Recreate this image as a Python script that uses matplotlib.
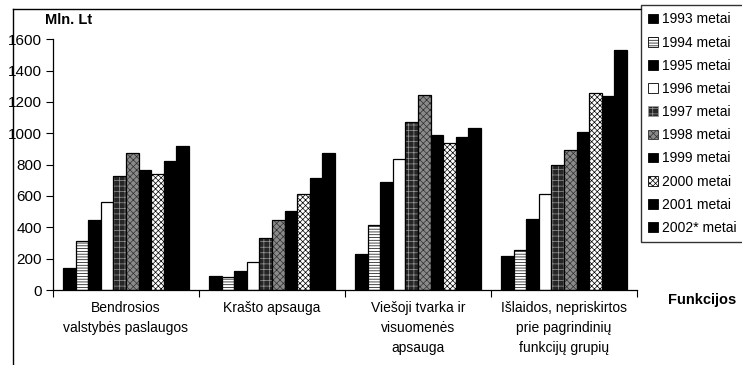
import matplotlib
matplotlib.use("Agg")
import matplotlib.pyplot as plt
import numpy as np
from matplotlib.patches import Patch
from matplotlib.lines import Line2D

plt.rcParams['font.family'] = ['Liberation Sans', 'DejaVu Sans']
plt.rcParams['hatch.linewidth'] = 0.5

categories = ["Bendrosios\nvalstybės paslaugos", "Krašto apsauga",
              "Viešoji tvarka ir\nvisuomenės\napsauga",
              "Išlaidos, nepriskirtos\nprie pagrindinių\nfunkcijų grupių"]
years = ["1993 metai", "1994 metai", "1995 metai", "1996 metai", "1997 metai",
         "1998 metai", "1999 metai", "2000 metai", "2001 metai", "2002* metai"]

# Mln. Lt per year, one list per functional group
bendrosios = [139, 314, 449, 560, 726, 876, 769, 741, 823, 921]
krasto = [92, 81, 124, 177, 331, 449, 504, 615, 716, 874]
viesoji = [229, 417, 688, 838, 1075, 1244, 989, 940, 979, 1034]
islaidos = [218, 256, 455, 613, 799, 893, 1009, 1256, 1239, 1530]
values = np.array([bendrosios, krasto, viesoji, islaidos])

# (facecolor, hatch, hatch colour) for each year
styles = [
    ("black", None, None),
    ("white", "------", "black"),
    ("black", None, None),
    ("white", None, None),
    ("#262626", "+++", "#9a9a9a"),
    ("#8a8a8a", "xxxxx", "#303030"),
    ("black", None, None),
    ("white", "xxxxxx", "black"),
    ("black", None, None),
    ("black", None, None),
]

fig = plt.figure(figsize=(7.42, 3.65), dpi=100)
ax = fig.add_axes([53 / 742, 1 - 290 / 365, (637 - 53) / 742, (290 - 39.3) / 365])

n = len(years)
width = 0.863 / n
x = np.arange(len(categories))
for i in range(n):
    fc, hatch, hc = styles[i]
    pos = x - 0.863 / 2 + width * (i + 0.5)
    if hatch:
        ax.bar(pos, values[:, i], width, color=fc, edgecolor=hc, hatch=hatch, linewidth=0)
    else:
        ax.bar(pos, values[:, i], width, color=fc, linewidth=0)
    ax.bar(pos, values[:, i], width, fill=False, edgecolor="black", linewidth=0.9)

ax.set_xlim(-0.5, 3.5)
ax.set_ylim(0, 1600)
ax.set_yticks(range(0, 1601, 200))
ax.tick_params(axis='y', direction='out', length=5, width=0.8, labelsize=11, pad=3)
ax.set_xticks([-0.5, 0.5, 1.5, 2.5, 3.5])
ax.set_xticklabels([])
ax.tick_params(axis='x', which='major', direction='out', length=5, width=0.8)
ax.set_xticks(x, minor=True)
ax.set_xticklabels(categories, minor=True, fontsize=10, linespacing=1.55)
ax.tick_params(axis='x', which='minor', length=0, pad=8)
for s in ['top', 'right']:
    ax.spines[s].set_visible(False)
for s in ['left', 'bottom']:
    ax.spines[s].set_linewidth(0.9)

fig.text(45 / 742, 1 - 20 / 365, "Mln. Lt", fontsize=10.5, fontweight='bold', va='center')
fig.text(668 / 742, 1 - 300 / 365, "Funkcijos", fontsize=10.5, fontweight='bold', va='center')

# outer chart border (top and left)
fig.add_artist(Line2D([13 / 742, 641 / 742], [1 - 9 / 365, 1 - 9 / 365], color='black', lw=1))
fig.add_artist(Line2D([13 / 742, 13 / 742], [1 - 9 / 365, 0], color='black', lw=1))

handles = []
for fc, hatch, hc in styles:
    handles.append(Patch(facecolor=fc, edgecolor=hc if hatch else 'black', hatch=hatch, linewidth=0.6))
leg = fig.legend(handles, years, loc='upper left', bbox_to_anchor=(641 / 742, 0.985),
                 fontsize=10, frameon=True, fancybox=False, borderaxespad=0,
                 handlelength=0.7, handleheight=0.7, handletextpad=0.3,
                 labelspacing=0.66, borderpad=0.5)
leg.get_frame().set_edgecolor('black')
leg.get_frame().set_linewidth(1)

fig.savefig("out.png", dpi=100)
